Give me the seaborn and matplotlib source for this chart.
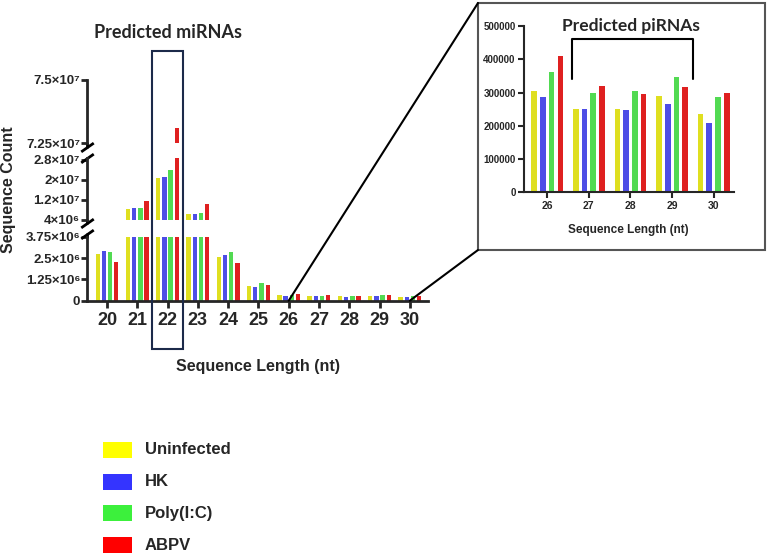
import pandas as pd
import numpy as np
import matplotlib.pyplot as plt
import seaborn as sns
from matplotlib.patches import Rectangle, ConnectionPatch
from matplotlib import transforms

# Sequence lengths (nt) and treatment groups
LENGTHS = ["20", "21", "22", "23", "24", "25", "26", "27", "28", "29", "30"]
GROUPS = ["Uninfected", "HK", "Poly(I:C)", "ABPV"]
COLORS = ["#FFFF00", "#3434FF", "#3CF03C", "#FF0000"]

# Read counts per group, one value per length
UNINFECTED = [2.72e6, 8.3e6, 2.07e7, 6.3e6, 2.54e6, 8.8e5, 3.05e5, 2.50e5, 2.50e5, 2.90e5, 2.35e5]
HK = [2.91e6, 8.8e6, 2.13e7, 6.4e6, 2.68e6, 8.2e5, 2.87e5, 2.50e5, 2.46e5, 2.66e5, 2.07e5]
POLY_IC = [2.84e6, 8.7e6, 2.40e7, 6.8e6, 2.85e6, 1.02e6, 3.61e5, 3.00e5, 3.04e5, 3.48e5, 2.88e5]
ABPV = [2.25e6, 1.17e7, 7.31e7, 1.03e7, 2.23e6, 9.0e5, 4.11e5, 3.20e5, 2.95e5, 3.17e5, 2.99e5]

PIRNA_LENGTHS = ["26", "27", "28", "29", "30"]

# Broken y axis segments: limits, ticks, labels
TOP_LIM = (7.25e7, 7.5e7)
TOP_TICKS = [7.25e7, 7.5e7]
TOP_LABELS = ["7.25×10⁷", "7.5×10⁷"]
MID_LIM = (4e6, 2.9e7)
MID_TICKS = [4e6, 1.2e7, 2e7, 2.8e7]
MID_LABELS = ["4×10⁶", "1.2×10⁷", "2×10⁷", "2.8×10⁷"]
BOT_LIM = (0, 3.75e6)
BOT_TICKS = [0, 1.25e6, 2.5e6, 3.75e6]
BOT_LABELS = ["0", "1.25×10⁶", "2.5×10⁶", "3.75×10⁶"]
INSET_TICKS = [0, 100000, 200000, 300000, 400000, 500000]

# long-form table for seaborn
rows = []
for g, vals in zip(GROUPS, [UNINFECTED, HK, POLY_IC, ABPV]):
    for l, v in zip(LENGTHS, vals):
        rows.append({"Length": l, "Group": g, "Count": v})
df = pd.DataFrame(rows)
df_pi = df[df["Length"].isin(PIRNA_LENGTHS)]

sns.set_style("ticks")
plt.rcParams['font.family'] = ['Liberation Sans', 'DejaVu Sans']
plt.rcParams['font.weight'] = 'bold'

W, H = 767, 557
fig = plt.figure(figsize=(W / 100, H / 100), dpi=100)


def px_axes(l, t, r, b):
    return fig.add_axes([l / W, 1 - b / H, (r - l) / W, (b - t) / H])


ax_top = px_axes(87, 80, 428, 143)
ax_mid = px_axes(87, 157.5, 428, 220)
ax_bot = px_axes(87, 236.7, 428, 300.7)
ax_in = px_axes(524, 26, 734, 192.3)

palette = dict(zip(GROUPS, COLORS))
for ax, lim, ticks, labels in [(ax_top, TOP_LIM, TOP_TICKS, TOP_LABELS),
                               (ax_mid, MID_LIM, MID_TICKS, MID_LABELS),
                               (ax_bot, BOT_LIM, BOT_TICKS, BOT_LABELS)]:
    sns.barplot(data=df, x="Length", y="Count", hue="Group", order=LENGTHS,
                hue_order=GROUPS, palette=palette, width=0.82, gap=0.3,
                errorbar=None, linewidth=0, legend=False, ax=ax)
    ax.set_ylim(*lim)
    ax.set_xlim(-0.66, 10.6)
    ax.set_yticks(ticks)
    ax.set_yticklabels(labels, fontsize=9.5, fontweight='bold')
    ax.set_xlabel("")
    ax.set_ylabel("")
    for s in ["top", "right"]:
        ax.spines[s].set_visible(False)
    ax.spines["left"].set_linewidth(2)
    ax.tick_params(axis="y", length=4, width=2, pad=1)
    if ax is not ax_bot:
        ax.spines["bottom"].set_visible(False)
        ax.set_xticks([])
    ax.patch.set_alpha(0)

ax_bot.spines["bottom"].set_linewidth(2)
ax_bot.tick_params(axis="x", length=5, width=2, labelsize=13, pad=3)
for t in ax_bot.get_xticklabels():
    t.set_fontweight('bold')

# break marks on the left spine
brk = dict(marker=[(-1, -0.7), (1, 0.7)], markersize=9, linestyle="none",
           color="k", mec="k", mew=2, clip_on=False)
ax_top.plot([0], [-0.07], transform=ax_top.transAxes, **brk)
ax_top.plot([0, 0], [0, -0.07], transform=ax_top.transAxes, color='k', lw=2, clip_on=False)
ax_mid.plot([0], [1.0], transform=ax_mid.transAxes, **brk)
ax_mid.plot([0], [-0.04], transform=ax_mid.transAxes, **brk)
ax_mid.plot([0, 0], [0, -0.04], transform=ax_mid.transAxes, color='k', lw=2, clip_on=False)
ax_bot.plot([0], [1.05], transform=ax_bot.transAxes, **brk)
ax_bot.plot([0, 0], [1, 1.05], transform=ax_bot.transAxes, color='k', lw=2, clip_on=False)

# box around 22 nt and title
blend = transforms.blended_transform_factory(ax_bot.transData, fig.transFigure)
idx22 = LENGTHS.index("22")
fig.add_artist(Rectangle((idx22 - 0.51, 1 - 349 / H), 1.02, (349 - 51) / H,
                         transform=blend, fill=False, edgecolor="#1c2a4a", lw=1.5))
fig.text(idx22, 1 - 33 / H, "Predicted miRNAs", transform=blend, ha="center",
         va="center", fontsize=13, fontweight="bold", family=["Lato", "DejaVu Sans"])

fig.text(9 / W, 1 - 190 / H, "Sequence Count", rotation=90, ha="center",
         va="center", fontsize=11.5, fontweight="bold")
fig.text(258 / W, 1 - 366 / H, "Sequence Length (nt)", ha="center",
         va="center", fontsize=11.5, fontweight="bold")

# inset with piRNA range
sns.barplot(data=df_pi, x="Length", y="Count", hue="Group", order=PIRNA_LENGTHS,
            hue_order=GROUPS, palette=palette, width=0.84, gap=0.35,
            errorbar=None, linewidth=0, legend=False, ax=ax_in)
ax_in.set_ylim(0, 5e5)
ax_in.set_xlim(-0.56, 4.49)
ax_in.set_yticks(INSET_TICKS)
ax_in.set_yticklabels([str(t) for t in INSET_TICKS], fontsize=7, fontweight='bold')
for t in ax_in.get_xticklabels():
    t.set_fontweight('bold')
    t.set_fontsize(7.5)
ax_in.set_xlabel("")
ax_in.set_ylabel("")
for s in ["top", "right"]:
    ax_in.spines[s].set_visible(False)
for s in ["left", "bottom"]:
    ax_in.spines[s].set_linewidth(1.5)
ax_in.tick_params(length=4, width=1.5, pad=2)
ax_in.plot([0.6, 0.6, 3.5, 3.5], [3.4e5, 4.6e5, 4.6e5, 3.4e5], color="k", lw=1.5,
           clip_on=False)
ax_in.text(2.0, 5.0e5, "Predicted piRNAs", ha="center", va="center", fontsize=12.5,
           fontweight="bold", family=["Lato", "DejaVu Sans"])
fig.text(628 / W, 1 - 230 / H, "Sequence Length (nt)", ha="center", va="center",
         fontsize=8.5, fontweight="bold")

# inset frame and zoom lines
fig.add_artist(Rectangle((478 / W, 1 - 250 / H), (765 - 478) / W, (250 - 3) / H,
                         transform=fig.transFigure, fill=False, edgecolor="#555555", lw=1.5))
i26 = LENGTHS.index("26")
i30 = LENGTHS.index("30")
for xi, corner in [(i26, (478 / W, 1 - 3 / H)), (i30, (478 / W, 1 - 250 / H))]:
    cp = ConnectionPatch(xyA=(xi, 0), coordsA=ax_bot.transData, xyB=corner,
                         coordsB=fig.transFigure, color="k", lw=1.5)
    fig.add_artist(cp)

# legend
for i, (g, c) in enumerate(zip(GROUPS, COLORS)):
    yc = 449.7 + i * 31.8
    fig.add_artist(Rectangle((103 / W, 1 - (yc + 8) / H), 29 / W, 16 / H,
                             transform=fig.transFigure, facecolor=c, edgecolor="none"))
    fig.text(145 / W, 1 - yc / H, g, ha="left", va="center", fontsize=12,
             fontweight="bold")

fig.savefig("out.png", dpi=100)
